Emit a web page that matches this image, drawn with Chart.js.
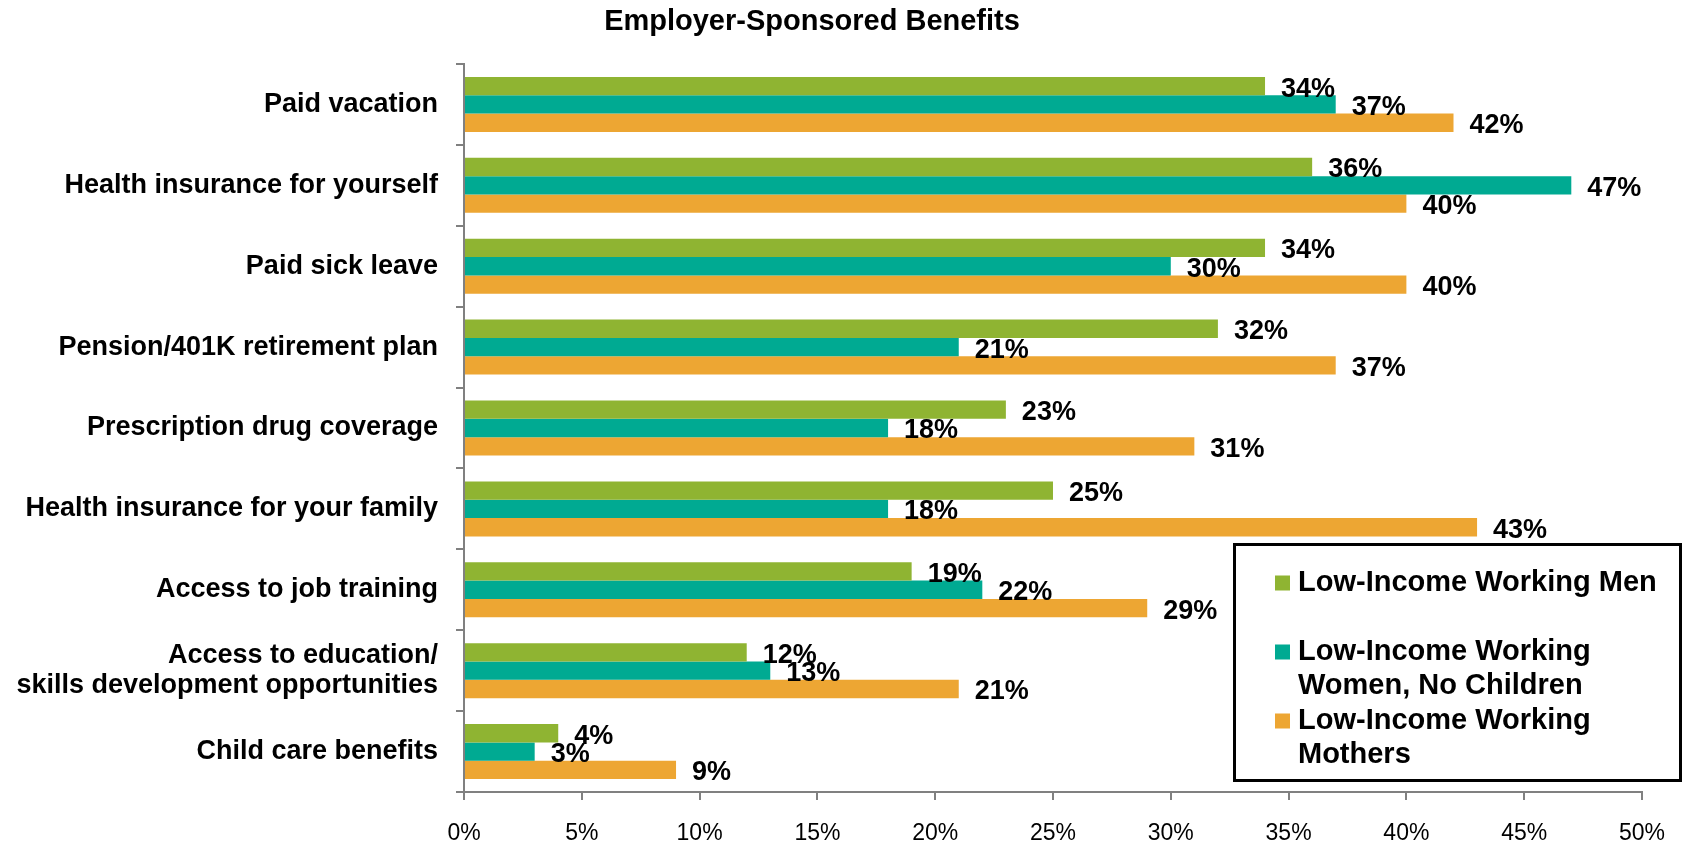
<!DOCTYPE html>
<html>
<head>
<meta charset="utf-8">
<script src="https://cdn.jsdelivr.net/npm/chart.js@4/dist/chart.umd.min.js"></script>
<style>
    html, body { margin: 0; padding: 0; background: #fff; }
    #wrap { width: 1685px; height: 845px; }
</style>
</head>
<body>
<div id="wrap"><canvas id="benefitsChart" width="1685" height="845"></canvas></div>
<script>
(function () {
    'use strict';

    const categories = [
        'Paid vacation',
        'Health insurance for yourself',
        'Paid sick leave',
        'Pension/401K retirement plan',
        'Prescription drug coverage',
        'Health insurance for your family',
        'Access to job training',
        ['Access to education/', 'skills development opportunities'],
        'Child care benefits'
    ];

    const menValues = [34, 36, 34, 32, 23, 25, 19, 12, 4];
    const womenValues = [37, 47, 30, 21, 18, 18, 22, 13, 3];
    const mothersValues = [42, 40, 40, 37, 31, 43, 29, 21, 9];

    const seriesLines = [
        ['Low-Income Working Men'],
        ['Low-Income Working', 'Women, No Children'],
        ['Low-Income Working', 'Mothers']
    ];
    const seriesColors = ['#8FB432', '#00AA92', '#EDA633'];
    const seriesValues = [menValues, womenValues, mothersValues];

    const xTicks = [0, 5, 10, 15, 20, 25, 30, 35, 40, 45, 50];

    const FONT = '"Liberation Sans", Arial, sans-serif';

    // title above the plot
    const titlePlugin = {
        id: 'titleText',
        afterDraw: function (chart) {
            const ctx = chart.ctx;
            ctx.save();
            ctx.font = 'bold 29px ' + FONT;
            ctx.fillStyle = '#000';
            ctx.textAlign = 'center';
            ctx.textBaseline = 'alphabetic';
            ctx.fillText('Employer-Sponsored Benefits', 812, 30);
            ctx.restore();
        }
    };

    // percentage labels to the right of each bar
    const valueLabels = {
        id: 'valueLabels',
        afterDatasetsDraw: function (chart) {
            const ctx = chart.ctx;
            ctx.save();
            ctx.font = 'bold 27px ' + FONT;
            ctx.fillStyle = '#000';
            ctx.textAlign = 'left';
            ctx.textBaseline = 'middle';
            chart.data.datasets.forEach(function (ds, di) {
                chart.getDatasetMeta(di).data.forEach(function (bar, i) {
                    ctx.fillText(ds.data[i] + '%', bar.x + 16, bar.y + 3);
                });
            });
            ctx.restore();
        }
    };

    // boxed legend sitting over the lower right of the plot
    const boxLegend = {
        id: 'boxLegend',
        afterDraw: function (chart) {
            const ctx = chart.ctx;
            const left = 1233, top = 543, w = 449, h = 239;
            ctx.save();
            ctx.fillStyle = '#fff';
            ctx.fillRect(left, top, w, h);
            ctx.lineWidth = 3;
            ctx.strokeStyle = '#000';
            ctx.strokeRect(left + 1.5, top + 1.5, w - 3, h - 3);

            ctx.font = 'bold 29px ' + FONT;
            ctx.textAlign = 'left';
            ctx.textBaseline = 'middle';
            chart.data.datasets.forEach(function (ds, di) {
                const y = top + 40 + di * 69;
                ctx.fillStyle = ds.backgroundColor;
                ctx.fillRect(left + 42, y - 7.5, 15, 15);
                ctx.fillStyle = '#000';
                seriesLines[di].forEach(function (line, li) {
                    ctx.fillText(line, left + 65, y + li * 34);
                });
            });
            ctx.restore();
        }
    };

    const ctx = document.getElementById('benefitsChart');
    new Chart(ctx, {
        type: 'bar',
        data: {
            labels: categories,
            datasets: seriesValues.map(function (vals, i) {
                return {
                    label: seriesLines[i].join(' '),
                    data: vals,
                    backgroundColor: seriesColors[i],
                    borderWidth: 0,
                    barPercentage: 1,
                    categoryPercentage: 0.68
                };
            })
        },
        options: {
            indexAxis: 'y',
            responsive: false,
            animation: false,
            devicePixelRatio: 1,
            layout: { padding: { top: 64, right: 43, left: 0, bottom: 0 } },
            plugins: {
                legend: { display: false },
                title: { display: false },
                tooltip: { enabled: false }
            },
            scales: {
                x: {
                    min: 0,
                    max: 50,
                    afterBuildTicks: function (scale) {
                        scale.ticks = xTicks.map(function (v) { return { value: v }; });
                    },
                    afterFit: function (scale) { scale.height = 53; },
                    ticks: {
                        color: '#000',
                        padding: 20,
                        font: { family: FONT, size: 23 },
                        callback: function (v) { return v + '%'; }
                    },
                    grid: {
                        drawOnChartArea: false,
                        drawTicks: true,
                        tickLength: 8,
                        color: '#808080',
                        lineWidth: 2
                    },
                    border: { color: '#808080', width: 2 }
                },
                y: {
                    afterFit: function (scale) { scale.width = 464; },
                    ticks: {
                        color: '#000',
                        padding: 18,
                        autoSkip: false,
                        font: { family: FONT, size: 27, weight: 'bold', lineHeight: 1.1 }
                    },
                    grid: {
                        offset: true,
                        drawOnChartArea: false,
                        drawTicks: true,
                        tickLength: 8,
                        color: '#808080',
                        lineWidth: 2
                    },
                    border: { color: '#808080', width: 2 }
                }
            }
        },
        plugins: [titlePlugin, valueLabels, boxLegend]
    });
})();
</script>
</body>
</html>
